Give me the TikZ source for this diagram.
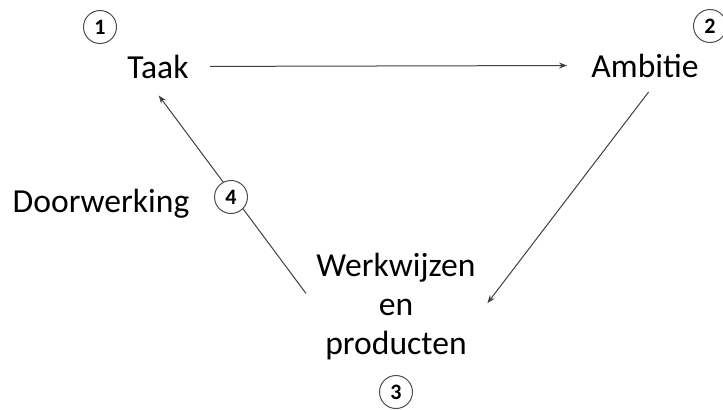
\documentclass[tikz,border=0pt]{standalone}
\usepackage{fontspec}
\setmainfont{Carlito}
\usetikzlibrary{arrows.meta}

\begin{document}
\begin{tikzpicture}[x=0.5pt, y=-0.5pt,
  every node/.style={inner sep=0pt},
  term/.style={font=\fontsize{16.8}{19.5}\selectfont},
  numbox/.style={circle, draw=black!70, line width=0.5pt, fill=white,
    minimum size=16.5pt, font=\fontsize{11}{12}\selectfont\bfseries},
  link/.style={draw=black!75, line width=0.5pt,
    -{Stealth[length=4pt,width=3pt]}}]

  \useasboundingbox (0,0) rectangle (723,409); %% margins

  %% terms
  \node[term, anchor=base] (taak) at (158,78) {Taak};
  \node[term, anchor=base] (ambitie) at (645,77) {Ambitie};
  \node[term, align=center] (werk) at (396,307)
    {Werkwijzen\\en\\producten};
  \node[term, anchor=base] (doorwerking) at (101,212) {Doorwerking};

  %% cycle
  \draw[link, shorten <=10.5pt, shorten >=12pt] (taak.east) -- (ambitie.west);
  \draw[link, shorten <=9pt, shorten >=9.5pt] (ambitie.-40) -- (werk.-8);
  \draw[link, shorten <=8.5pt, shorten >=10.5pt] (werk.west) -- (taak.-134);

  %% step numbers
  \node[numbox] (n1) at (100,27) {1};
  \node[numbox] (n2) at (710,26) {2};
  \node[numbox] (n3) at (396,392) {3};
  \node[numbox] (n4) at (231,197) {4};

\end{tikzpicture}
\end{document}
